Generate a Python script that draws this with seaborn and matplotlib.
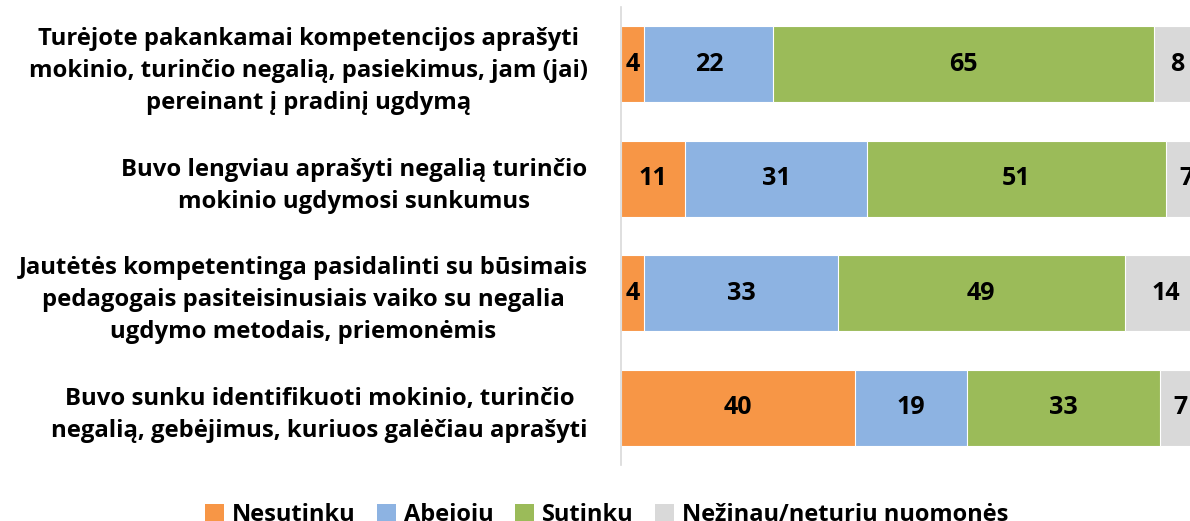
import pandas as pd
import numpy as np
import matplotlib
matplotlib.use('Agg')
import matplotlib.pyplot as plt
from matplotlib.patches import Patch
import seaborn as sns

sns.set_style("white")
plt.rcParams['font.family'] = ['Open Sans', 'DejaVu Sans']
plt.rcParams['font.weight'] = 'bold'
plt.rcParams['text.color'] = 'black'
plt.rcParams['ytick.color'] = 'black'

questions = [
    'Turėjote pakankamai kompetencijos aprašyti\nmokinio, turinčio negalią, pasiekimus, jam (jai)\npereinant į pradinį ugdymą',
    'Buvo lengviau aprašyti negalią turinčio\nmokinio ugdymosi sunkumus',
    'Jautėtės kompetentinga pasidalinti su būsimais\npedagogais pasiteisinusiais vaiko su negalia\nugdymo metodais, priemonėmis',
    'Buvo sunku identifikuoti mokinio, turinčio\nnegalią, gebėjimus, kuriuos galėčiau aprašyti',
]
df = pd.DataFrame({
    'question': questions,
    'Nesutinku': [4, 11, 4, 40],
    'Abejoju': [22, 31, 33, 19],
    'Sutinku': [65, 51, 49, 33],
    'Nežinau/neturiu nuomonės': [8, 7, 14, 7],
})
answers = ['Nesutinku', 'Abejoju', 'Sutinku', 'Nežinau/neturiu nuomonės']
colors = {'Nesutinku': '#F79646', 'Abejoju': '#8DB3E2',
          'Sutinku': '#9BBB59', 'Nežinau/neturiu nuomonės': '#D9D9D9'}

cum = df[answers].cumsum(axis=1)

fig = plt.figure(figsize=(11.9, 5.21), dpi=100)
ax = fig.add_axes([0.5218, 0.1075, 0.4782, 0.8791])

# stacked bars: draw cumulative totals from the widest down
for ans in answers[::-1]:
    sns.barplot(x=cum[ans], y=df['question'], color=colors[ans], orient='h',
                width=0.665, saturation=1, edgecolor='white', linewidth=0.8, ax=ax)

for i in range(len(df)):
    for ans in answers:
        v = df.loc[i, ans]
        ax.text(cum.loc[i, ans] - v / 2, i, str(v), ha='center', va='center',
                fontsize=18, fontweight='bold', color='black')

ax.set_xlim(0, 97.1)
ax.set_ylim(3.5, -0.5)
ax.set_xlabel('')
ax.set_ylabel('')
ax.set_xticks([])
ax.tick_params(axis='y', length=0, pad=24)
for lbl in ax.get_yticklabels():
    lbl.set_multialignment('center')
    lbl.set_fontsize(17.2)
    lbl.set_fontweight('bold')
    lbl.set_color('black')
    lbl.set_linespacing(1.45)
for s in ['top', 'right', 'bottom']:
    ax.spines[s].set_visible(False)
ax.spines['left'].set_color('#D9D9D9')
ax.spines['left'].set_linewidth(1.2)

handles = [Patch(facecolor=colors[a], edgecolor='none', label=a) for a in answers]
fig.legend(handles=handles, loc='center', bbox_to_anchor=(0.51, 0.012), ncol=4,
           frameon=False, handlelength=0.8, handleheight=0.8,
           handletextpad=0.35, columnspacing=0.9, prop={'weight': 'bold', 'size': 17})

fig.savefig('out.png', dpi=100)
